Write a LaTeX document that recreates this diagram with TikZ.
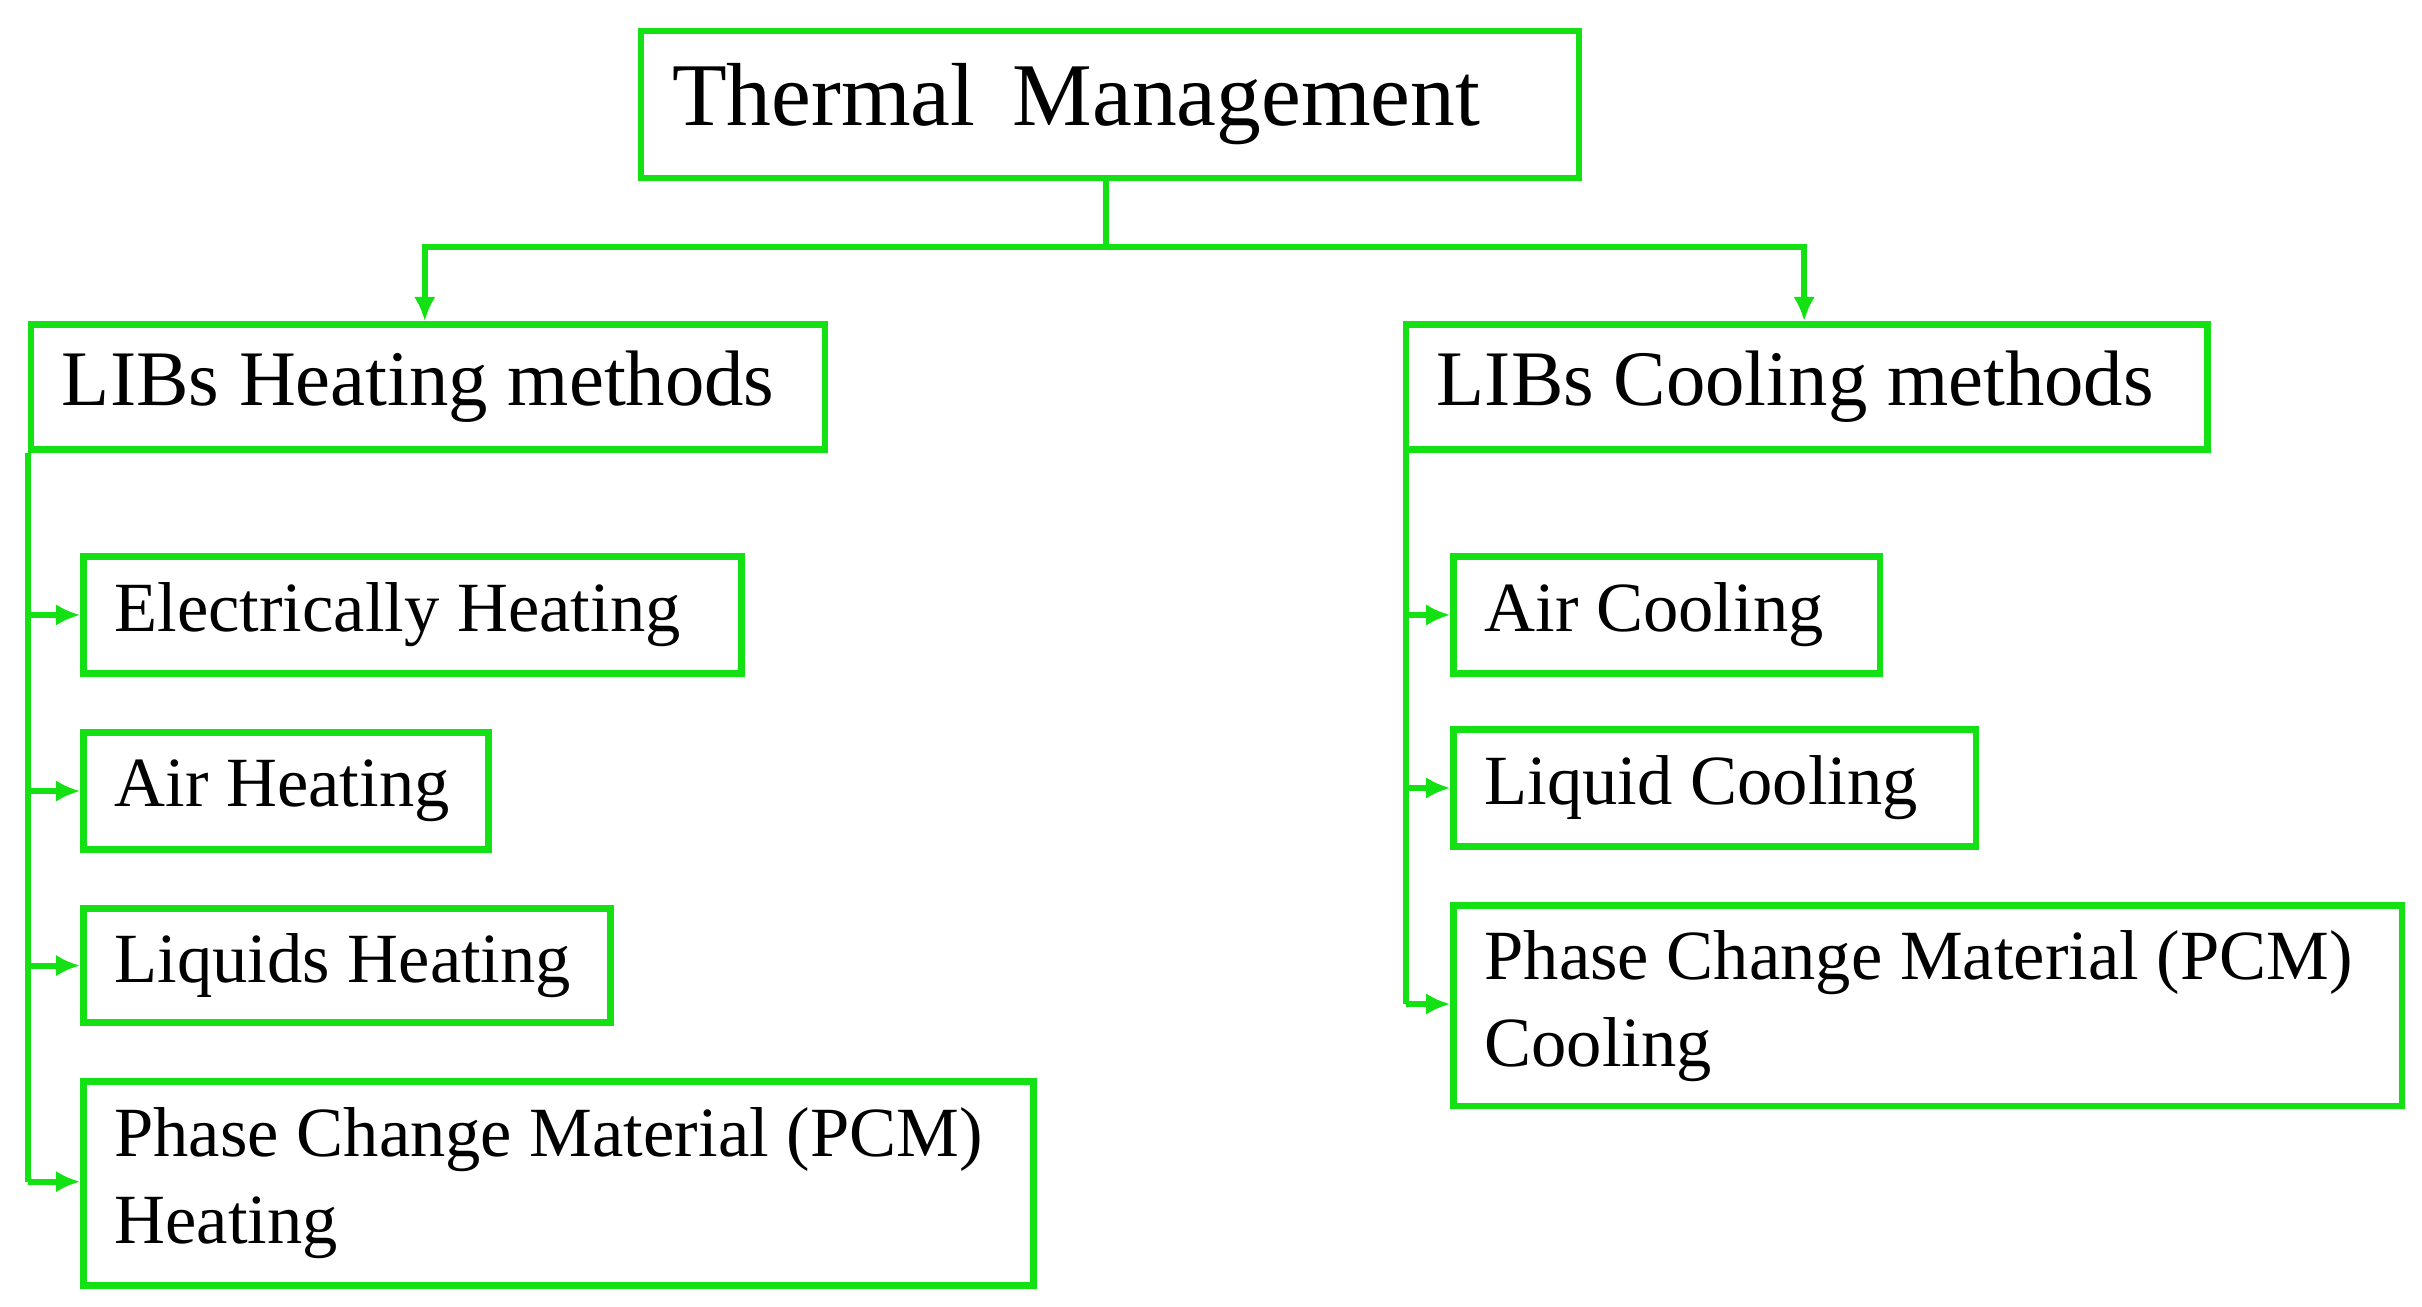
\documentclass[tikz,border=0pt]{standalone}
\usepackage{fontspec}
\setmainfont{Liberation Serif}
\usetikzlibrary{arrows.meta}
\definecolor{g}{RGB}{20,225,20}
\begin{document}
\begin{tikzpicture}[x=0.02cm,y=-0.02cm,
  box/.style={draw=g,line width=2.4pt,anchor=north west,inner xsep=0pt,inner ysep=0pt,align=flush left,font=\fontsize{26}{32}\selectfont},
  ln/.style={draw=g,line width=2.2pt},
  ar/.style={ln,-{Latex[length=9pt,width=8pt]}}]
\useasboundingbox (0,0) rectangle (1568,846);
\newcommand\bx[6]{\node[box,minimum width=#4*0.02cm,minimum height=#5*0.02cm,text width=(#4-40)*0.02cm] (#1) at (#2,#3) {#6};}
\bx{tm}{413}{18}{607}{95}{\fontsize{33}{37}\selectfont Thermal\, Management}
\bx{heat}{18}{208}{514}{81}{\fontsize{29}{33}\selectfont LIBs Heating methods}
\bx{cool}{908}{208}{519}{81}{\fontsize{29}{33}\selectfont LIBs Cooling methods}
\bx{e}{52}{358}{426}{76}{Electrically Heating}
\bx{ah}{52}{472}{262}{76}{Air Heating}
\bx{lh}{52}{586}{341}{74}{Liquids Heating}
\bx{ph}{52}{698}{615}{132}{Phase Change Material (PCM)\\Heating}
\bx{ac}{939}{358}{276}{76}{Air Cooling}
\bx{lc}{939}{470}{338}{76}{Liquid Cooling}
\bx{pc}{939}{584}{614}{130}{Phase Change Material (PCM)\\Cooling}
\coordinate (j) at (716,160);
\draw[ln] (j |- tm.south) -- (j);
\draw[ar] (j) -| (heat.north -| 275,0);
\draw[ar] (j) -| (cool.north -| 1168,0);
\draw[ln] (heat.south west) -- (18,765);
\foreach \n in {e,ah,lh}{\draw[ar] (18,0 |- \n.west) -- (\n.west);}
\draw[ar] (18,765) -- (52,765);
\draw[ln] (910,289) -- (910,650);
\foreach \n in {ac,lc}{\draw[ar] (910,0 |- \n.west) -- (\n.west);}
\draw[ar] (910,650) -- (939,650);
\end{tikzpicture}
\end{document}
